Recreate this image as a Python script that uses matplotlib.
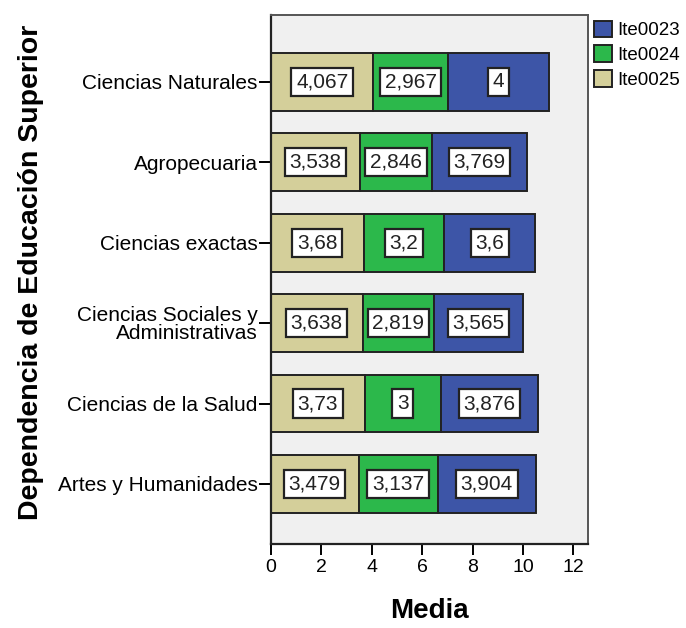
import matplotlib.pyplot as plt
import numpy as np

plt.rcParams['font.family'] = ['Liberation Sans', 'DejaVu Sans']

categories = ['Artes y Humanidades', 'Ciencias de la Salud',
              'Ciencias Sociales y\nAdministrativas', 'Ciencias exactas',
              'Agropecuaria', 'Ciencias Naturales']
ite0025 = [3.479, 3.73, 3.638, 3.68, 3.538, 4.067]
ite0024 = [3.137, 3.0, 2.819, 3.2, 2.846, 2.967]
ite0023 = [3.904, 3.876, 3.565, 3.6, 3.769, 4.0]

series = [('Ite0025', ite0025, '#D4CF9A'),
          ('Ite0024', ite0024, '#2CB84B'),
          ('Ite0023', ite0023, '#3D55A7')]


def fmt(v):
    s = ('%.3f' % v).rstrip('0').rstrip('.')
    return s.replace('.', ',')


fig = plt.figure(figsize=(6.86, 6.28), dpi=100)
ax = fig.add_axes([0.395, 0.134, 0.462, 0.842])
ax.set_facecolor('#F0F0F0')

y = np.arange(len(categories))
left = np.zeros(len(categories))
handles = {}
for name, vals, color in series:
    bars = ax.barh(y, vals, left=left, height=0.72, color=color,
                   edgecolor='#222222', linewidth=1.4, label=name)
    handles[name] = bars
    for yi, l, v in zip(y, left, vals):
        ax.text(l + v / 2, yi, fmt(v), ha='center', va='center', fontsize=15,
                color='#222222',
                bbox=dict(boxstyle='square,pad=0.22', fc='white', ec='#222222', lw=1.6))
    left = left + np.array(vals)

ax.set_xlim(0, 12.58)
ax.set_ylim(-0.745, 5.83)
ax.set_xticks([0, 2, 4, 6, 8, 10, 12])
ax.set_yticks(y)
ax.set_yticklabels(categories, fontsize=15, linespacing=0.9)
ax.tick_params(axis='x', labelsize=14, length=8, width=1.4, pad=3)
ax.tick_params(axis='y', length=9, width=1.4, pad=0.5)
for side in ['top', 'right']:
    ax.spines[side].set_color('#555555')
    ax.spines[side].set_linewidth(1.4)
for side in ['left', 'bottom']:
    ax.spines[side].set_linewidth(1.6)
    ax.spines[side].set_color('#222222')

ax.set_xlabel('Media', fontsize=20, fontweight='bold', labelpad=16)
ax.set_ylabel('Dependencia de Educación Superior', fontsize=20.5,
              fontweight='bold')
ax.yaxis.set_label_coords(-0.715, 0.514)

leg = fig.legend([handles['Ite0023'], handles['Ite0024'], handles['Ite0025']],
                 ['Ite0023', 'Ite0024', 'Ite0025'],
                 loc='upper left', bbox_to_anchor=(0.85, 0.985), frameon=False,
                 fontsize=13.5, handlelength=0.96, handleheight=0.96,
                 handletextpad=0.27, labelspacing=0.33, borderaxespad=0.2)

fig.savefig('out.png', dpi=100)
